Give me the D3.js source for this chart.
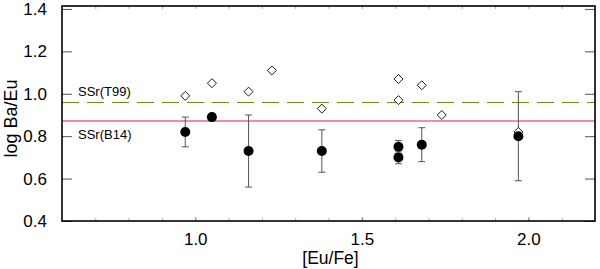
<!DOCTYPE html>
<html>
<head>
<meta charset="utf-8">
<script src="https://cdn.jsdelivr.net/npm/d3@7"></script>
<style>
  body { margin: 0; background: #fff; }
  text { font-family: "Liberation Sans", Arial, sans-serif; fill: #000; }
</style>
</head>
<body>
<div id="chart"></div>
<script>
// data
let diamondX = [0.97, 1.05, 1.16, 1.23, 1.38, 1.61, 1.61, 1.68, 1.74, 1.97];
let diamondY = [0.99, 1.05, 1.01, 1.11, 0.93, 1.07, 0.97, 1.04, 0.90, 0.82];
let circleX = [0.97, 1.05, 1.16, 1.38, 1.61, 1.61, 1.68, 1.97];
let circleY = [0.82, 0.89, 0.73, 0.73, 0.75, 0.70, 0.76, 0.80];
let circleErr = [0.07, 0, 0.17, 0.10, 0.03, 0.03, 0.08, 0.21];
let xMajor = [1.0, 1.5, 2.0];
let xMinor = [0.7, 0.8, 0.9, 1.0, 1.1, 1.2, 1.3, 1.4, 1.5, 1.6, 1.7, 1.8, 1.9, 2.0, 2.1];
let yTicks = [0.4, 0.6, 0.8, 1.0, 1.2, 1.4];
let refLines = [
  {name: "SSr(T99)", value: 0.96},
  {name: "SSr(B14)", value: 0.87}
];

let width = 600, height = 269;
let margin = ({top: 6, right: 5, bottom: 48, left: 62});

const svg = d3.select("#chart").append("svg")
  .attr("width", width)
  .attr("height", height);

let x = d3.scaleLinear()
  .domain([0.6, 2.2])
  .range([margin.left, width - margin.right]);

let y = d3.scaleLinear()
  .domain([0.4, 1.414])
  .range([height - margin.bottom, margin.top]);

let x0 = margin.left, x1 = width - margin.right;
let y0 = height - margin.bottom, y1 = margin.top;

// minor x ticks, top and bottom, inward
svg.append("g")
  .attr("transform", `translate(0,${y0})`)
  .call(d3.axisBottom(x).tickValues(xMinor).tickSize(-3).tickFormat(""))
  .call(g => g.select(".domain").remove())
  .call(g => g.selectAll("line").attr("stroke", "#aaa"));
svg.append("g")
  .attr("transform", `translate(0,${y1})`)
  .call(d3.axisTop(x).tickValues(xMinor).tickSize(-3).tickFormat(""))
  .call(g => g.select(".domain").remove())
  .call(g => g.selectAll("line").attr("stroke", "#aaa"));

// x labels
svg.append("g")
  .attr("transform", `translate(0,${y0})`)
  .call(d3.axisBottom(x).tickValues(xMajor).tickSize(-4).tickPadding(12).tickFormat(d3.format(".1f")))
  .call(g => g.select(".domain").remove())
  .call(g => g.selectAll("line").attr("stroke", "#888"))
  .call(g => g.selectAll("text").attr("font-size", 17).attr("font-family", "Liberation Sans, Arial, sans-serif"));

// y ticks left and right, inward
svg.append("g")
  .attr("transform", `translate(${x0},0)`)
  .call(d3.axisLeft(y).tickValues(yTicks).tickSize(-10).tickPadding(15).tickFormat(d3.format(".1f")))
  .call(g => g.select(".domain").remove())
  .call(g => g.selectAll("line").attr("stroke", "#555"))
  .call(g => g.selectAll("text").attr("font-size", 17).attr("font-family", "Liberation Sans, Arial, sans-serif"));
svg.append("g")
  .attr("transform", `translate(${x1},0)`)
  .call(d3.axisRight(y).tickValues(yTicks).tickSize(-10).tickFormat(""))
  .call(g => g.select(".domain").remove())
  .call(g => g.selectAll("line").attr("stroke", "#555"));

// reference lines
let yT = Math.round(y(refLines[0].value)) + 0.5;
let yB = Math.round(y(refLines[1].value));
svg.append("line")
  .attr("x1", x0).attr("x2", x1)
  .attr("y1", yT).attr("y2", yT)
  .attr("stroke", "#5f9410")
  .attr("stroke-width", 1.2)
  .attr("stroke-dasharray", "17,8");
svg.append("line")
  .attr("x1", x0).attr("x2", x1)
  .attr("y1", yB).attr("y2", yB)
  .attr("stroke", "#ec6a7c")
  .attr("stroke-width", 1.6);

svg.append("text")
  .attr("x", 78).attr("y", yT - 7)
  .attr("font-size", 13)
  .text(refLines[0].name);
svg.append("text")
  .attr("x", 78).attr("y", yB + 18)
  .attr("font-size", 13)
  .text(refLines[1].name);

let circles = circleX.map((d, i) => ({x: d, y: circleY[i], e: circleErr[i]}));
let diamonds = diamondX.map((d, i) => ({x: d, y: diamondY[i]}));

// error bars
let eb = svg.append("g")
  .attr("stroke", "#555")
  .attr("stroke-width", 1)
  .selectAll("g")
  .data(circles.filter(d => d.e > 0))
  .join("g");
eb.append("line")
  .attr("x1", d => x(d.x)).attr("x2", d => x(d.x))
  .attr("y1", d => y(d.y - d.e)).attr("y2", d => y(d.y + d.e));
eb.append("line")
  .attr("x1", d => x(d.x) - 3.5).attr("x2", d => x(d.x) + 3.5)
  .attr("y1", d => y(d.y - d.e)).attr("y2", d => y(d.y - d.e));
eb.append("line")
  .attr("x1", d => x(d.x) - 3.5).attr("x2", d => x(d.x) + 3.5)
  .attr("y1", d => y(d.y + d.e)).attr("y2", d => y(d.y + d.e));

// open diamonds
svg.append("g")
  .selectAll("path")
  .data(diamonds)
  .join("path")
  .attr("transform", d => `translate(${x(d.x)},${y(d.y)})`)
  .attr("d", "M0,-4.5L4.5,0L0,4.5L-4.5,0Z")
  .attr("fill", "#fff")
  .attr("stroke", "#000")
  .attr("stroke-width", 0.9);

// filled circles
svg.append("g")
  .selectAll("circle")
  .data(circles)
  .join("circle")
  .attr("cx", d => x(d.x))
  .attr("cy", d => y(d.y))
  .attr("r", 5)
  .attr("fill", "#000");

// frame
svg.append("rect")
  .attr("x", x0).attr("y", y1)
  .attr("width", x1 - x0).attr("height", y0 - y1)
  .attr("fill", "none")
  .attr("stroke", "#000")
  .attr("stroke-width", 1.6);

// axis titles
svg.append("text")
  .attr("x", (x0 + x1) / 2 + 2).attr("y", 264)
  .attr("text-anchor", "middle")
  .attr("font-size", 17.5)
  .text("[Eu/Fe]");
svg.append("text")
  .attr("transform", `translate(17,${(y0 + y1) / 2 + 5}) rotate(-90)`)
  .attr("text-anchor", "middle")
  .attr("font-size", 18)
  .text("log Ba/Eu");
</script>
</body>
</html>
